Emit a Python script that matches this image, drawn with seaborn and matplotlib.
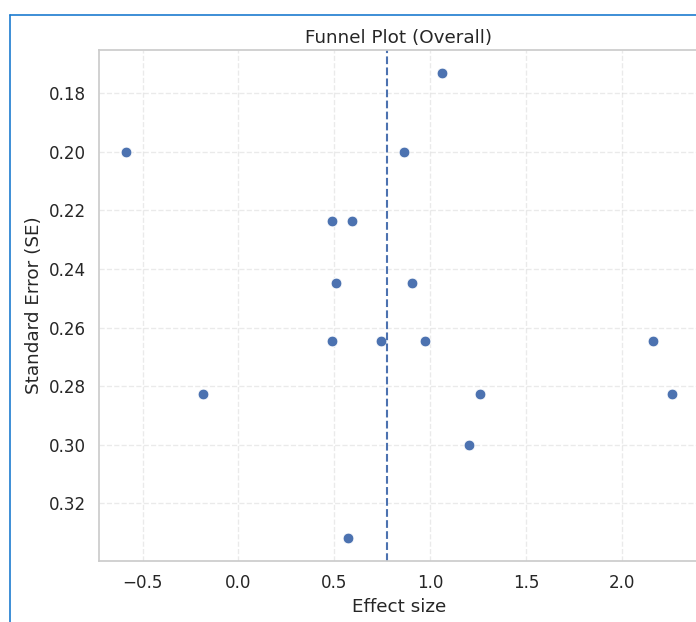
import matplotlib
matplotlib.use('Agg')
import matplotlib.pyplot as plt
import seaborn as sns
import pandas as pd
from matplotlib.lines import Line2D

# study effect sizes and their standard errors
effect_size = [1.06, -0.585, 0.862, 0.486, 0.59, 0.507, 0.905, 0.49, 0.742,
               0.972, 2.16, -0.183, 1.26, 2.26, 1.205, 0.57]
std_error = [0.1732, 0.2, 0.2, 0.2236, 0.2236, 0.2449, 0.2449, 0.2646, 0.2646,
             0.2646, 0.2646, 0.2828, 0.2828, 0.2828, 0.3, 0.3317]
pooled_effect = 0.776

sns.set_theme(style="whitegrid", font_scale=1.1)
plt.rcParams['grid.linestyle'] = '--'
plt.rcParams['grid.alpha'] = 0.4

df = pd.DataFrame({'Effect size': effect_size, 'Standard Error (SE)': std_error})

fig = plt.figure(figsize=(6.96, 6.22), dpi=100)
ax = fig.add_axes([99 / 696, 61 / 622, 600 / 696, 511 / 622])

sns.scatterplot(data=df, x='Effect size', y='Standard Error (SE)', s=60, ax=ax)
ax.axvline(pooled_effect, color=sns.color_palette()[0], linestyle='--', linewidth=1.5)
ax.invert_yaxis()
ax.set_title('Funnel Plot (Overall)', pad=5)

# screenshot frame edges
fig.add_artist(Line2D([10 / 696, 10 / 696], [0, 1 - 15 / 622], color='#1c7ccf', lw=1.2))
fig.add_artist(Line2D([10 / 696, 1], [1 - 15 / 622, 1 - 15 / 622], color='#1c7ccf', lw=1.2))

fig.savefig('out.png', dpi=100)
